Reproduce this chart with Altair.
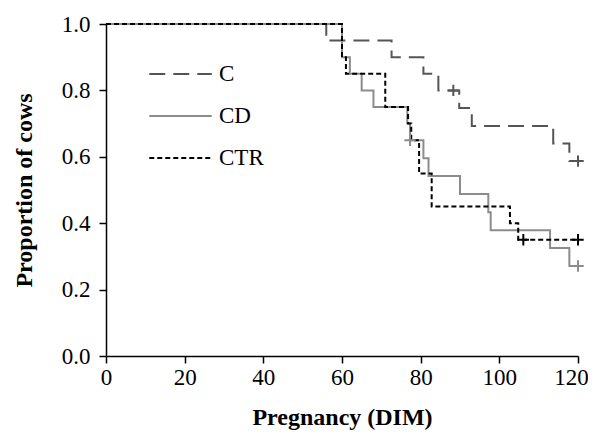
import altair as alt
import pandas as pd

groups = ["C", "CD", "CTR"]
colors = ["#555555", "#8c8c8c", "#000000"]
dashes = [[16, 8], [1, 0], [5, 3]]

c_t = [0, 56, 72.6, 80.7, 84.5, 89.8, 93, 113.7, 117.8, 120]
c_s = [1.0, 0.95, 0.90, 0.85, 0.80, 0.747, 0.693, 0.640, 0.587, 0.587]
c_cens_t = [88.3, 120]
c_cens_s = [0.80, 0.587]

cd_t = [0, 60, 62, 65, 68, 76.6, 77.3, 80.7, 82, 90, 97.2, 97.8, 112.9, 117.8, 120]
cd_s = [1.0, 0.90, 0.85, 0.80, 0.75, 0.70, 0.65, 0.596, 0.542, 0.488, 0.433, 0.379, 0.325, 0.271, 0.271]
cd_cens_t = [77.3, 120]
cd_cens_s = [0.65, 0.271]

ctr_t = [0, 60, 61, 71, 76.8, 77.6, 79.6, 82.8, 102.7, 104.8, 120]
ctr_s = [1.0, 0.90, 0.85, 0.75, 0.70, 0.65, 0.55, 0.45, 0.40, 0.35, 0.35]
ctr_cens_t = [106.1, 120]
ctr_cens_s = [0.35, 0.35]

x_ticks = [0, 20, 40, 60, 80, 100, 120]
y_ticks = [0.0, 0.2, 0.4, 0.6, 0.8, 1.0]

rows = []
for g, ts, ss in [("C", c_t, c_s), ("CD", cd_t, cd_s), ("CTR", ctr_t, ctr_s)]:
    for i, (t, s) in enumerate(zip(ts, ss)):
        rows.append({"group": g, "t": t, "s": s, "order": i})
curves = pd.DataFrame(rows)

crows = []
for g, ts, ss in [("C", c_cens_t, c_cens_s), ("CD", cd_cens_t, cd_cens_s), ("CTR", ctr_cens_t, ctr_cens_s)]:
    for t, s in zip(ts, ss):
        crows.append({"grp": g, "t": t, "s": s})
cens = pd.DataFrame(crows)

font = "Liberation Serif"

x = alt.X("t:Q", scale=alt.Scale(domain=[0, 120], nice=False),
          axis=alt.Axis(values=x_ticks, title="Pregnancy (DIM)", grid=False, labelFlush=False,
                        labelOffset=alt.expr("datum.value == 120 ? -7 : 0")))
y = alt.Y("s:Q", scale=alt.Scale(domain=[0, 1], nice=False),
          axis=alt.Axis(values=y_ticks, format=".1f", title="Proportion of cows", grid=False,
                        labelFlush=False))

leg = dict(title=None, orient="none", legendX=42, legendY=29,
           symbolType="stroke", symbolSize=3900,
           symbolStrokeWidth=2, labelFontSize=23,
           labelFont=font, labelColor="black",
           labelOffset=6, rowPadding=0, clipHeight=42)

lines = alt.Chart(curves).mark_line(interpolate="step-after", strokeWidth=2).encode(
    x=x, y=y,
    order="order:Q",
    color=alt.Color("group:N", scale=alt.Scale(domain=groups, range=colors),
                    legend=alt.Legend(**leg)),
    strokeDash=alt.StrokeDash("group:N", scale=alt.Scale(domain=groups, range=dashes),
                              legend=alt.Legend(**leg)),
)

plus = "M-1,0L1,0M0,-1L0,1"
points = alt.Chart(cens).mark_point(shape=plus, filled=False, size=130, strokeWidth=2, opacity=1).encode(
    x="t:Q", y="s:Q",
    stroke=alt.Stroke("grp:N", scale=alt.Scale(domain=groups, range=colors), legend=None),
)

chart = alt.layer(lines, points).resolve_scale(stroke="independent").properties(
    width=472, height=332,
    autosize=alt.AutoSizeParams(type="none"),
    padding={"left": 98, "top": 16, "right": 10, "bottom": 74},
).configure_view(stroke=None).configure_axis(
    domainColor="black", domainWidth=1.5, tickColor="black", tickWidth=1.5,
    tickSize=7, labelFont=font, labelFontSize=23, labelColor="black",
    titleFont=font, titleFontSize=24, titleFontWeight="bold", titleColor="black",
).configure_axisX(labelPadding=3, titlePadding=16).configure_axisY(
    labelPadding=9, titlePadding=25)

chart.save("out.html", embed_options={"renderer": "svg", "actions": False})
